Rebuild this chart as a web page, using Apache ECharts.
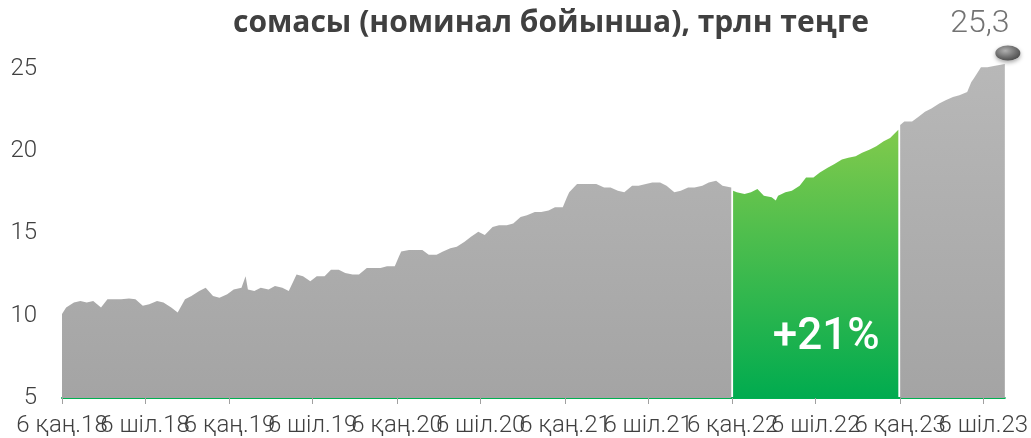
<!DOCTYPE html>
<html>
<head>
<meta charset="utf-8">
<script src="https://cdn.jsdelivr.net/npm/echarts@6/dist/echarts.min.js"></script>
<style>
  html, body { margin: 0; padding: 0; background: #fff; }
  #chart { width: 1031px; height: 438px; }
</style>
</head>
<body>
<div id="chart"></div>
<script>
// semi-monthly readings of the total (trln tenge)
const dates = [
  '2018-01-06', '2018-01-15', '2018-02-01', '2018-02-15', '2018-03-01', '2018-03-15',
  '2018-04-01', '2018-04-15', '2018-05-01', '2018-05-15', '2018-06-01', '2018-06-15',
  '2018-07-01', '2018-07-15', '2018-08-01', '2018-08-15', '2018-09-01', '2018-09-15',
  '2018-10-01', '2018-10-15', '2018-11-01', '2018-11-15', '2018-12-01', '2018-12-15',
  '2019-01-01', '2019-01-15', '2019-02-01', '2019-02-10', '2019-02-15', '2019-03-01',
  '2019-03-15', '2019-04-01', '2019-04-15', '2019-05-01', '2019-05-15', '2019-06-01',
  '2019-06-15', '2019-07-01', '2019-07-15', '2019-08-01', '2019-08-15', '2019-09-01',
  '2019-09-15', '2019-10-01', '2019-10-15', '2019-11-01', '2019-11-15', '2019-12-01',
  '2019-12-15', '2020-01-01', '2020-01-10', '2020-01-15', '2020-02-01', '2020-02-15',
  '2020-03-01', '2020-03-15', '2020-04-01', '2020-04-15', '2020-05-01', '2020-05-15',
  '2020-06-01', '2020-06-15', '2020-07-01', '2020-07-15', '2020-08-01', '2020-08-15',
  '2020-09-01', '2020-09-15', '2020-10-01', '2020-10-15', '2020-11-01', '2020-11-15',
  '2020-12-01', '2020-12-15', '2021-01-01', '2021-01-10', '2021-01-15', '2021-02-01',
  '2021-02-15', '2021-03-01', '2021-03-15', '2021-04-01', '2021-04-15', '2021-05-01',
  '2021-05-15', '2021-06-01', '2021-06-15', '2021-07-01', '2021-07-15', '2021-08-01',
  '2021-08-15', '2021-09-01', '2021-09-15', '2021-10-01', '2021-10-15', '2021-11-01',
  '2021-11-15', '2021-12-01', '2021-12-15', '2022-01-03',
  '2022-01-07', '2022-01-15', '2022-02-01', '2022-02-15', '2022-03-01', '2022-03-15',
  '2022-04-01', '2022-04-10', '2022-04-15', '2022-05-01', '2022-05-15', '2022-06-01',
  '2022-06-15', '2022-07-01', '2022-07-15', '2022-08-01', '2022-08-15', '2022-09-01',
  '2022-09-15', '2022-10-01', '2022-10-15', '2022-11-01', '2022-11-15', '2022-12-01',
  '2022-12-15', '2023-01-02',
  '2023-01-06', '2023-01-15', '2023-02-01', '2023-02-15', '2023-03-01', '2023-03-15',
  '2023-04-01', '2023-04-15', '2023-05-01', '2023-05-15', '2023-06-01', '2023-06-10',
  '2023-06-15', '2023-07-01', '2023-07-15', '2023-08-01', '2023-08-22'
];
const values = [
  10.1, 10.5, 10.8, 10.9, 10.8, 10.9,
  10.5, 11.0, 11.0, 11.0, 11.05, 11.0,
  10.6, 10.7, 10.9, 10.8, 10.5, 10.2,
  11.0, 11.2, 11.5, 11.7, 11.2, 11.1,
  11.3, 11.6, 11.7, 12.4, 11.6, 11.5,
  11.7, 11.6, 11.8, 11.7, 11.5, 12.5,
  12.4, 12.1, 12.4, 12.4, 12.8, 12.8,
  12.6, 12.5, 12.5, 12.9, 12.9, 12.9,
  13.0, 13.0, 13.6, 13.9, 14.0, 14.0,
  14.0, 13.7, 13.7, 13.9, 14.1, 14.2,
  14.5, 14.8, 15.1, 14.9, 15.4, 15.5,
  15.5, 15.6, 16.0, 16.1, 16.3, 16.3,
  16.4, 16.6, 16.6, 17.2, 17.5, 18.0,
  18.0, 18.0, 18.0, 17.8, 17.8, 17.6,
  17.5, 17.9, 17.9, 18.0, 18.1, 18.1,
  17.9, 17.5, 17.6, 17.8, 17.8, 17.9,
  18.1, 18.2, 17.9, 17.8,
  17.6, 17.5, 17.4, 17.5, 17.7, 17.3,
  17.2, 17.0, 17.3, 17.5, 17.6, 17.9,
  18.4, 18.4, 18.7, 19.0, 19.2, 19.5,
  19.6, 19.7, 19.9, 20.1, 20.3, 20.6,
  20.8, 21.3,
  21.6, 21.8, 21.8, 22.1, 22.4, 22.6,
  22.9, 23.1, 23.3, 23.4, 23.6, 24.2,
  24.4, 25.1, 25.1, 25.2, 25.3
];
const yTicks = [5, 10, 15, 20, 25];
const yMax = 25.3;
const tickDates = [
  '2018-01-06', '2018-07-06', '2019-01-06', '2019-07-06', '2020-01-06', '2020-07-06',
  '2021-01-06', '2021-07-06', '2022-01-06', '2022-07-06', '2023-01-06', '2023-07-06'
];
const tickLabels = [
  '6 қаң.18', '6 шіл.18', '6 қаң.19', '6 шіл.19', '6 қаң.20', '6 шіл.20',
  '6 қаң.21', '6 шіл.21', '6 қаң.22', '6 шіл.22', '6 қаң.23', '6 шіл.23'
];
const greenFrom = '2022-01-05';
const greenTo = '2023-01-04';
const growthLabel = '+21%';
const growthAt = ['2022-07-29', 8.65];

const toTime = s => {
  const [y, m, d] = s.split('-').map(Number);
  return Date.UTC(y, m - 1, d);
};
const tickTimes = tickDates.map(toTime);
// labels overlap each other, so January and July labels sit on two stacked axes
const janTimes = tickTimes.filter((t, i) => i % 2 === 0);
const julTimes = tickTimes.filter((t, i) => i % 2 === 1);

const before = [], inYear = [], after = [];
dates.forEach((d, i) => {
  const p = [toTime(d), values[i]];
  if (d < greenFrom) before.push(p);
  else if (d <= greenTo) inYear.push(p);
  else after.push(p);
});
const last = after[after.length - 1];

const grayFill = {
  type: 'linear', x: 0, y: 60, x2: 0, y2: 399, global: true,
  colorStops: [{ offset: 0, color: '#b8b8b8' }, { offset: 1, color: '#a4a4a4' }]
};
const greenFill = {
  type: 'linear', x: 0, y: 140, x2: 0, y2: 399, global: true,
  colorStops: [{ offset: 0, color: '#7cc94c' }, { offset: 1, color: '#00ab4f' }]
};

const xLabel = times => ({
  customValues: times,
  formatter: v => tickLabels[tickTimes.indexOf(v)] || '',
  showMinLabel: true,
  showMaxLabel: true,
  fontSize: 24,
  fontWeight: 300,
  color: '#404040',
  margin: 16
});

const chart = echarts.init(document.getElementById('chart'));
chart.setOption({
  animation: false,
  textStyle: { fontFamily: 'Roboto' },
  title: {
    text: 'сомасы (номинал бойынша), трлн теңге',
    left: 228,
    top: 3,
    textStyle: { fontSize: 30, fontWeight: 'bold', color: '#404040', fontFamily: 'Open Sans' }
  },
  grid: { left: 62, right: 21, top: 64, bottom: 39 },
  xAxis: [
    {
      type: 'value',
      position: 'bottom',
      min: toTime(dates[0]),
      max: toTime(dates[dates.length - 1]),
      axisLine: { lineStyle: { color: '#00b050', width: 2 } },
      axisTick: { show: true, customValues: tickTimes, length: 6, lineStyle: { color: '#a0a0a0', width: 1 } },
      axisLabel: xLabel(janTimes),
      splitLine: { show: false }
    },
    {
      type: 'value',
      position: 'bottom',
      offset: 0,
      min: toTime(dates[0]),
      max: toTime(dates[dates.length - 1]),
      axisLine: { show: false },
      axisTick: { show: false },
      axisLabel: xLabel(julTimes),
      splitLine: { show: false }
    }
  ],
  yAxis: {
    type: 'value',
    min: yTicks[0],
    max: yMax,
    axisLine: { show: false },
    axisTick: { show: false },
    axisLabel: { customValues: yTicks, fontSize: 24, fontWeight: 300, color: '#404040', margin: 25 },
    splitLine: { show: false }
  },
  series: [
    {
      type: 'line', data: before, symbol: 'none',
      lineStyle: { width: 0 }, areaStyle: { color: grayFill, opacity: 1 }
    },
    {
      type: 'line', data: inYear, symbol: 'none',
      lineStyle: { width: 0 }, areaStyle: { color: greenFill, opacity: 1 },
      markPoint: {
        symbol: 'circle', symbolSize: 0,
        data: [{ coord: [toTime(growthAt[0]), growthAt[1]] }],
        label: {
          show: true, position: 'inside', formatter: growthLabel,
          color: '#fff', fontSize: 44, fontWeight: 500
        }
      }
    },
    {
      type: 'line', data: after, symbol: 'none',
      lineStyle: { width: 0 }, areaStyle: { color: grayFill, opacity: 1 },
      markPoint: {
        symbol: 'circle',
        symbolSize: [25, 15],
        symbolOffset: [3, -11],
        itemStyle: {
          color: {
            type: 'radial', x: 0.4, y: 0.35, r: 0.7,
            colorStops: [{ offset: 0, color: '#b0b0b0' }, { offset: 0.6, color: '#707070' }, { offset: 1, color: '#4a4a4a' }]
          },
          shadowBlur: 4, shadowColor: 'rgba(0,0,0,0.35)', shadowOffsetY: 2
        },
        data: [{ coord: last, value: last[1] }],
        label: {
          show: true, position: 'top', distance: 6, offset: [-28, 0],
          formatter: p => String(p.value).replace('.', ','),
          color: '#737373', fontSize: 32, fontWeight: 300
        }
      }
    }
  ]
});
</script>
</body>
</html>
